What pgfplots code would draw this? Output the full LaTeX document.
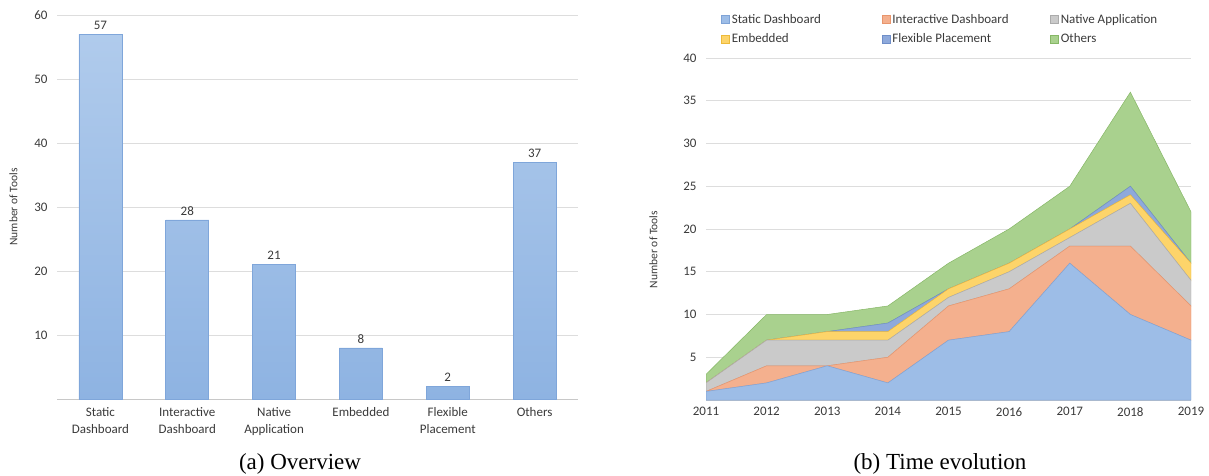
\documentclass[border=0pt]{standalone}
\usepackage{pgfplots}
\pgfplotsset{compat=1.18}
\usepackage{fontspec}
\setmainfont{Carlito}
\newfontfamily\capfont{Liberation Serif}
\definecolor{txt}{HTML}{3A3A3A}
\definecolor{gridc}{HTML}{DDDDDD}
\definecolor{axc}{HTML}{C8C8C8}
\definecolor{barTop}{HTML}{B0CBEC}
\definecolor{barBot}{HTML}{8EB3E2}
\definecolor{barEdge}{HTML}{7FA6DA}
\definecolor{cStatic}{HTML}{9DBDE7}
\definecolor{eStatic}{HTML}{7FA3D6}
\definecolor{cInter}{HTML}{F4B08E}
\definecolor{eInter}{HTML}{E8956C}
\definecolor{cNative}{HTML}{CACACA}
\definecolor{eNative}{HTML}{ABABAB}
\definecolor{cEmb}{HTML}{FDD46A}
\definecolor{eEmb}{HTML}{EDBA3A}
\definecolor{cFlex}{HTML}{8EA9DB}
\definecolor{eFlex}{HTML}{6F8EC8}
\definecolor{cOther}{HTML}{A9D18E}
\definecolor{eOther}{HTML}{86B766}
\begin{document}
\begin{tikzpicture}
\useasboundingbox (0pt,0pt) rectangle (1209pt,475pt);
\pgfplotsset{
  common/.style={
    scale only axis,
    anchor=south west,
    /pgf/number format/assume math mode=true,
    tick label style={font=\fontsize{13}{17}\selectfont, text=txt},
    yticklabel style={xshift=-6pt},
    major tick length=0pt,
    ymajorgrids,
    grid style={draw=gridc, line width=0.8pt},
    axis x line*=bottom,
    axis y line*=left,
    x axis line style={draw=axc, line width=0.8pt},
    y axis line style={draw=none},
  }
}
% ---------------- (a) Overview ----------------
\begin{axis}[common,
  at={(57pt,76pt)}, width=521pt, height=384pt,
  xmin=-0.5, xmax=5.5, ymin=0, ymax=60,
  ytick={10,20,30,40,50,60},
  xtick={0,1,2,3,4,5},
  xticklabels={{Static\\Dashboard},{Interactive\\Dashboard},{Native\\Application},{Embedded},{Flexible\\Placement},{Others}},
  xticklabel style={align=center, anchor=north, yshift=-5pt},
  ylabel={Number of Tools},
  every axis y label/.style={at={(rel axis cs:0,0.5)}, rotate=90, anchor=south, yshift=36pt,
    font=\fontsize{11.5}{13}\selectfont, text=txt},
  nodes near coords,
  every node near coord/.append style={font=\fontsize{13}{15}\selectfont, text=txt, yshift=1pt},
]
\addplot[ybar, bar width=43pt, draw=barEdge, line width=0.6pt, top color=barTop, bottom color=barBot]
  coordinates {(0,57) (1,28) (2,21) (3,8) (4,2) (5,37)};
\end{axis}
% ---------------- (b) Time evolution ----------------
\begin{axis}[common,
  at={(706pt,75pt)}, width=485pt, height=342pt,
  xmin=2011, xmax=2019, ymin=0, ymax=40,
  ytick={5,10,15,20,25,30,35,40},
  xtick={2011,2012,2013,2014,2015,2016,2017,2018,2019},
  xticklabel style={/pgf/number format/1000 sep={}, yshift=-4pt},
  ylabel={Number of Tools},
  every axis y label/.style={at={(rel axis cs:0,0.44)}, rotate=90, anchor=south, yshift=45pt,
    font=\fontsize{11.5}{13}\selectfont, text=txt},
  stack plots=y,
  legend columns=3,
  legend cell align=left,
  legend style={at={(0.025,1.14)}, anchor=north west, draw=none, fill=none,
    font=\fontsize{13}{15}\selectfont, text=txt, row sep=5pt},
  legend image code/.code={\fill[#1] (0pt,-4pt) rectangle (8pt,4pt);},
]
\addplot[fill=cStatic, draw=eStatic, line width=0.5pt] coordinates
  {(2011,1) (2012,2) (2013,4) (2014,2) (2015,7) (2016,8) (2017,16) (2018,10) (2019,7)} \closedcycle;
\addlegendentry{\makebox[148pt][l]{Static Dashboard}}
\addplot[fill=cInter, draw=eInter, line width=0.5pt] coordinates
  {(2011,0) (2012,2) (2013,0) (2014,3) (2015,4) (2016,5) (2017,2) (2018,8) (2019,4)} \closedcycle;
\addlegendentry{\makebox[156pt][l]{Interactive Dashboard}}
\addplot[fill=cNative, draw=eNative, line width=0.5pt] coordinates
  {(2011,1) (2012,3) (2013,3) (2014,2) (2015,1) (2016,2) (2017,1) (2018,5) (2019,3)} \closedcycle;
\addlegendentry{Native Application}
\addplot[fill=cEmb, draw=eEmb, line width=0.5pt] coordinates
  {(2011,0) (2012,0) (2013,1) (2014,1) (2015,1) (2016,1) (2017,1) (2018,1) (2019,2)} \closedcycle;
\addlegendentry{\makebox[148pt][l]{Embedded}}
\addplot[fill=cFlex, draw=eFlex, line width=0.5pt] coordinates
  {(2011,0) (2012,0) (2013,0) (2014,1) (2015,0) (2016,0) (2017,0) (2018,1) (2019,0)} \closedcycle;
\addlegendentry{\makebox[156pt][l]{Flexible Placement}}
\addplot[fill=cOther, draw=eOther, line width=0.5pt] coordinates
  {(2011,1) (2012,3) (2013,2) (2014,2) (2015,3) (2016,4) (2017,5) (2018,11) (2019,6)} \closedcycle;
\addlegendentry{Others}
\end{axis}
% captions
\node[font=\capfont\fontsize{23}{27}\selectfont, anchor=base] at (300pt,6pt) {(a) Overview};
\node[font=\capfont\fontsize{23}{27}\selectfont, anchor=base] at (940pt,6pt) {(b) Time evolution};
\end{tikzpicture}
\end{document}
